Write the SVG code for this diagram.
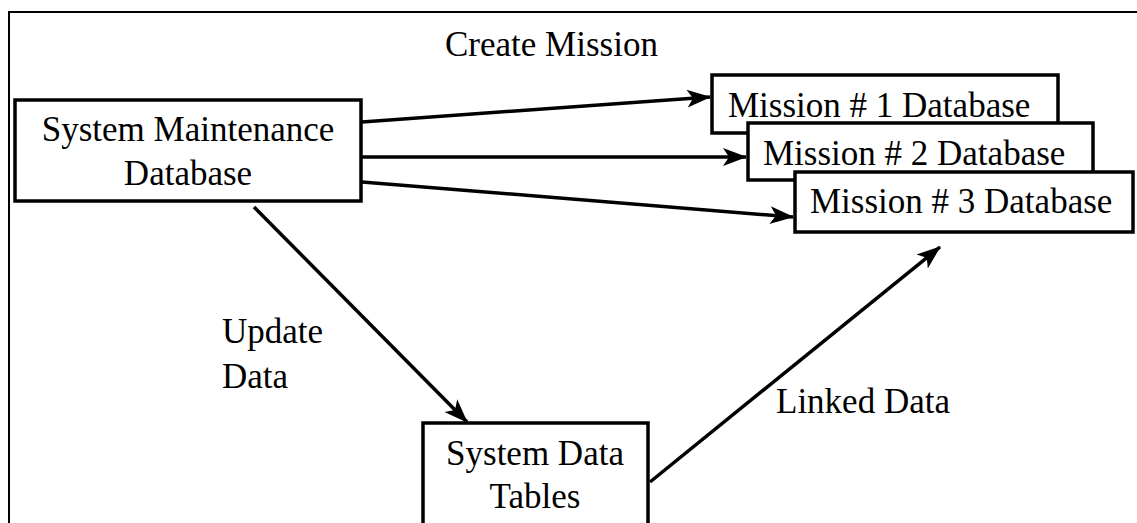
<svg xmlns="http://www.w3.org/2000/svg" width="1137" height="523" viewBox="0 0 1137 523">
<style>
.box{fill:#fff;stroke:#000;stroke-width:3.5}
.t{font-family:"Liberation Serif","Times New Roman",serif;font-size:35px;fill:#000}
.c{text-anchor:middle}
.ln{stroke:#000;stroke-width:3.5;fill:none}
</style>
<defs>
<marker id="ah" markerUnits="userSpaceOnUse" markerWidth="26" markerHeight="20" refX="23" refY="9" orient="auto" viewBox="0 0 26 18">
<path d="M0,0 L24,9 L0,18 L6,9 Z" fill="#000"/>
</marker>
</defs>
<rect x="9" y="12" width="1140" height="530" fill="none" stroke="#000" stroke-width="2"/>
<g id="labels">
<text class="t" x="445" y="56">Create Mission</text>
<text class="t" x="222" y="343">Update</text>
<text class="t" x="222" y="388">Data</text>
<text class="t" x="776" y="413">Linked Data</text>
</g>
<g id="connectors">
<line class="ln" x1="362" y1="122" x2="710" y2="97" marker-end="url(#ah)"/>
<line class="ln" x1="362" y1="157" x2="746" y2="157" stroke-width="4.5" marker-end="url(#ah)"/>
<line class="ln" x1="362" y1="182" x2="793" y2="217" marker-end="url(#ah)"/>
<line class="ln" x1="254" y1="207" x2="467" y2="422" marker-end="url(#ah)"/>
<line class="ln" x1="650" y1="482" x2="940" y2="247" marker-end="url(#ah)"/>
</g>
<g id="smd">
<rect class="box" x="15" y="100" width="346" height="101"/>
<text class="t c" x="188" y="141">System Maintenance</text>
<text class="t c" x="188" y="185">Database</text>
</g>
<g id="m1">
<rect class="box" x="712" y="75" width="346" height="58"/>
<text class="t" x="728" y="117">Mission # 1 Database</text>
</g>
<g id="m2">
<rect class="box" x="748" y="123" width="345" height="57"/>
<text class="t" x="763" y="165">Mission # 2 Database</text>
</g>
<g id="m3">
<rect class="box" x="795" y="172" width="338" height="60"/>
<text class="t" x="810" y="213">Mission # 3 Database</text>
</g>
<g id="sdt">
<rect class="box" x="423" y="423" width="225" height="120"/>
<text class="t c" x="535" y="465">System Data</text>
<text class="t c" x="535" y="508">Tables</text>
</g>
</svg>
